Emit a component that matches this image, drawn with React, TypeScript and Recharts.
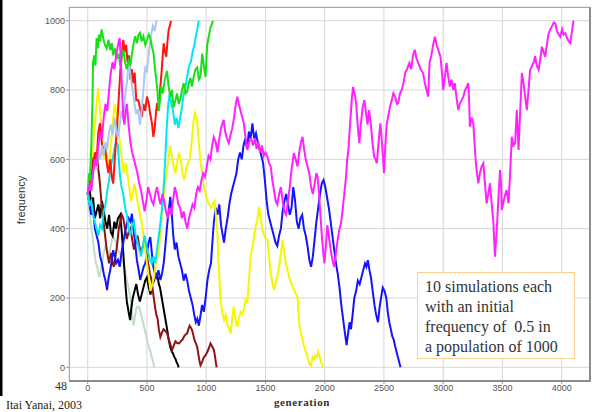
import { LineChart, Line, XAxis, YAxis, CartesianGrid } from "recharts";

// generation, frequency pairs
const paleGreen = [[0,500],[10,460],[20,440],[30,400],[40,380],[50,350],[60,320],[70,300],[80,290],[90,270],[100,260],[110,280],[120,300],[135,330],[150,350],[165,340],[180,320],[195,350],[210,380],[225,370],[240,360],[255,340],[270,330],[285,310],[300,300],[315,280],[330,250],[345,230],[360,200],[372,160],[387,120],[400,150],[410,170],[420,175],[430,175],[445,160],[460,140],[470,125],[480,110],[490,95],[500,78],[510,65],[520,55],[530,45],[540,30],[550,18],[562,0]];

const black = [[0,500],[15,520],[30,470],[45,490],[60,430],[75,450],[90,470],[105,430],[120,480],[135,450],[150,420],[165,400],[180,440],[195,390],[210,380],[225,420],[240,400],[255,430],[274,440],[287,390],[300,330],[310,280],[320,230],[330,190],[340,170],[350,150],[358,136],[368,170],[380,200],[395,220],[410,240],[425,210],[440,190],[455,210],[470,230],[485,250],[500,260],[515,230],[530,210],[545,240],[560,250],[575,270],[590,260],[600,240],[610,230],[620,210],[630,190],[640,170],[655,140],[670,110],[683,80],[697,58],[710,45],[720,40],[730,30],[740,25],[750,15],[760,8],[768,0]];

const darkRed = [[0,500],[15,540],[30,560],[45,600],[60,590],[70,620],[80,610],[90,570],[100,540],[110,500],[120,460],[130,430],[140,400],[150,370],[160,340],[170,320],[180,300],[190,320],[200,330],[210,300],[220,290],[235,320],[250,360],[262,400],[274,420],[287,440],[300,430],[315,400],[330,370],[345,390],[360,400],[375,370],[390,340],[405,360],[420,380],[435,350],[450,330],[465,350],[480,360],[495,330],[510,300],[525,270],[540,250],[550,220],[560,194],[570,170],[580,150],[590,140],[600,110],[613,87],[627,100],[640,110],[655,105],[670,98],[685,80],[698,65],[712,50],[725,62],[740,75],[755,70],[770,69],[785,75],[800,80],[815,90],[827,95],[839,98],[850,110],[860,120],[870,115],[881,107],[890,95],[900,80],[912,70],[924,58],[935,35],[945,15],[952,6],[965,15],[980,29],[995,35],[1010,45],[1022,55],[1036,69],[1050,60],[1065,50],[1075,30],[1082,12],[1088,0]];

const blue = [[0,500],[15,470],[30,440],[45,460],[60,400],[75,380],[90,360],[105,320],[120,300],[135,270],[150,250],[163,223],[177,260],[190,280],[203,310],[215,338],[228,320],[240,300],[255,310],[270,290],[285,330],[300,360],[315,390],[330,415],[345,430],[360,420],[373,443],[385,400],[400,360],[415,309],[430,280],[443,252],[457,270],[472,290],[486,300],[500,330],[514,360],[528,376],[541,330],[554,290],[567,270],[580,260],[597,280],[613,252],[627,270],[641,300],[655,350],[669,406],[683,450],[697,492],[710,440],[722,380],[735,340],[750,360],[765,320],[780,300],[795,280],[810,250],[825,270],[840,250],[855,220],[870,200],[885,180],[900,150],[912,130],[925,140],[938,120],[952,150],[965,180],[980,160],[995,200],[1010,250],[1025,280],[1040,300],[1052,360],[1065,420],[1080,460],[1095,440],[1110,470],[1125,410],[1140,380],[1150,360],[1165,400],[1180,430],[1195,470],[1210,500],[1225,520],[1240,540],[1255,560],[1270,600],[1285,620],[1300,600],[1315,640],[1330,660],[1345,630],[1360,680],[1375,660],[1390,704],[1405,660],[1420,675],[1435,650],[1450,630],[1465,610],[1480,590],[1495,540],[1510,480],[1525,440],[1540,420],[1555,400],[1570,380],[1585,360],[1600,350],[1615,380],[1630,400],[1645,450],[1660,480],[1675,500],[1690,470],[1705,440],[1720,460],[1735,520],[1750,480],[1765,420],[1780,400],[1795,430],[1810,440],[1825,400],[1840,380],[1855,350],[1870,310],[1885,290],[1900,320],[1915,370],[1930,420],[1945,460],[1960,500],[1975,530],[1990,540],[2005,520],[2020,490],[2035,460],[2050,420],[2065,380],[2080,340],[2095,300],[2110,270],[2125,230],[2140,180],[2155,140],[2170,100],[2185,64],[2198,100],[2210,130],[2222,110],[2235,150],[2250,200],[2265,220],[2280,250],[2295,240],[2310,260],[2325,280],[2340,300],[2352,290],[2364,309],[2378,280],[2390,260],[2405,220],[2420,180],[2435,150],[2450,130],[2462,170],[2475,200],[2490,230],[2505,220],[2520,200],[2532,160],[2545,130],[2558,110],[2570,90],[2582,80],[2595,60],[2610,40],[2625,20],[2640,0]];

const yellow = [[0,500],[15,550],[30,600],[45,640],[60,700],[75,760],[88,806],[100,760],[112,700],[125,620],[140,600],[155,640],[170,580],[185,600],[200,660],[215,720],[230,760],[245,720],[260,680],[275,640],[290,600],[305,560],[320,590],[335,560],[350,520],[365,480],[380,500],[395,530],[410,500],[425,470],[440,440],[455,420],[470,380],[485,340],[500,300],[515,260],[530,220],[545,240],[560,260],[575,300],[590,320],[605,360],[620,420],[635,470],[650,520],[665,560],[680,600],[695,640],[710,610],[725,580],[740,560],[755,590],[770,620],[785,600],[800,560],[815,540],[830,570],[845,590],[860,600],[875,640],[890,700],[905,733],[920,720],[935,660],[950,600],[965,560],[980,520],[995,500],[1010,480],[1025,470],[1040,460],[1055,470],[1070,480],[1082,440],[1093,396],[1105,300],[1115,230],[1121,194],[1135,160],[1150,136],[1165,150],[1180,120],[1195,110],[1206,98],[1220,140],[1232,175],[1247,140],[1262,117],[1275,140],[1290,160],[1305,155],[1320,170],[1335,200],[1347,185],[1360,250],[1375,319],[1390,347],[1405,380],[1420,410],[1432,425],[1446,463],[1460,430],[1474,396],[1490,380],[1505,370],[1517,367],[1530,320],[1545,271],[1560,240],[1573,223],[1590,250],[1605,270],[1615,290],[1630,330],[1644,367],[1658,330],[1672,300],[1686,280],[1700,261],[1715,245],[1729,232],[1745,220],[1758,210],[1771,203],[1778,160],[1785,126],[1792,110],[1799,98],[1813,80],[1827,59],[1840,45],[1855,30],[1870,11],[1884,5],[1898,30],[1910,25],[1922,35],[1935,30],[1946,45],[1955,35],[1965,20],[1975,10],[1985,0]];

const cyan = [[0,500],[15,470],[30,480],[45,440],[60,420],[75,400],[90,380],[105,410],[120,400],[135,450],[150,470],[165,510],[180,540],[195,580],[210,600],[225,630],[240,650],[255,640],[270,560],[285,520],[300,500],[315,460],[330,440],[345,400],[360,380],[375,410],[390,420],[405,380],[420,360],[435,340],[450,320],[465,350],[480,380],[495,350],[510,330],[525,310],[540,300],[555,320],[570,300],[585,340],[600,380],[615,420],[630,470],[645,540],[657,620],[668,700],[680,760],[692,790],[705,760],[720,740],[735,700],[750,720],[765,690],[780,720],[795,750],[810,790],[825,810],[840,840],[855,870],[870,880],[885,910],[900,930],[912,955],[925,975],[937,1000]];

const red = [[0,500],[15,540],[30,520],[45,580],[60,620],[75,600],[90,680],[104,704],[115,660],[130,620],[145,640],[160,590],[175,560],[190,600],[203,549],[215,530],[228,600],[240,660],[252,720],[264,790],[276,860],[288,900],[300,945],[312,910],[324,930],[336,880],[348,900],[360,830],[372,860],[384,820],[396,850],[410,770],[427,771],[440,750],[457,723],[470,760],[485,740],[500,781],[515,760],[528,730],[542,704],[554,665],[565,690],[575,730],[585,762],[597,740],[613,810],[623,850],[633,900],[641,935],[652,910],[663,896],[673,940],[683,973],[693,985],[703,1000]];

const lightBlue = [[0,500],[15,530],[30,510],[45,560],[60,590],[75,570],[90,620],[105,600],[120,640],[135,610],[150,650],[165,630],[180,680],[195,700],[210,670],[225,720],[240,690],[255,660],[270,700],[285,740],[300,720],[315,780],[330,820],[345,880],[355,860],[365,830],[380,800],[395,760],[410,730],[425,745],[440,700],[455,740],[470,800],[480,850],[490,870],[500,850],[510,890],[520,920],[535,960],[550,985],[565,970],[580,1000]];

const green = [[0,500],[10,560],[20,540],[30,640],[40,760],[45,880],[55,900],[65,870],[75,950],[85,920],[95,960],[105,940],[118,975],[130,950],[145,930],[160,920],[175,945],[190,915],[203,935],[215,900],[230,920],[245,890],[260,905],[274,870],[288,895],[302,915],[315,880],[330,860],[345,885],[360,870],[373,905],[385,930],[400,955],[415,935],[430,960],[443,965],[455,940],[470,955],[486,930],[500,945],[515,960],[528,950],[542,925],[556,905],[568,860],[579,830],[590,790],[600,740],[610,770],[620,810],[635,790],[650,830],[669,855],[683,810],[697,780],[711,800],[725,750],[740,770],[754,790],[768,760],[782,775],[796,800],[810,820],[825,790],[839,795],[853,820],[867,835],[880,810],[895,840],[910,860],[924,865],[938,830],[952,840],[966,905],[980,870],[994,838],[1008,930],[1022,955],[1036,980],[1048,990],[1056,1000]];

const magenta = [[0,500],[15,530],[30,510],[45,560],[60,600],[75,580],[90,640],[105,680],[120,660],[135,720],[150,760],[165,740],[180,800],[195,850],[210,880],[225,860],[240,900],[255,930],[270,950],[280,880],[290,800],[300,720],[310,700],[320,740],[330,760],[345,700],[360,650],[375,620],[390,600],[405,580],[420,560],[435,530],[450,510],[465,480],[480,450],[495,480],[510,520],[525,500],[540,480],[555,470],[570,500],[585,520],[600,490],[615,470],[630,500],[645,480],[660,450],[675,430],[690,460],[705,440],[720,480],[735,520],[750,500],[765,470],[780,460],[795,430],[810,450],[825,420],[840,400],[855,430],[870,450],[885,470],[900,460],[915,500],[930,520],[945,510],[960,540],[975,560],[990,550],[1005,580],[1020,610],[1035,600],[1050,640],[1064,664],[1080,650],[1095,620],[1110,660],[1125,690],[1147,714],[1160,680],[1175,660],[1190,647],[1205,670],[1220,690],[1235,720],[1250,760],[1262,781],[1275,760],[1290,740],[1305,720],[1318,704],[1333,660],[1347,627],[1362,650],[1380,660],[1395,640],[1410,660],[1425,630],[1440,650],[1455,620],[1470,640],[1485,610],[1500,620],[1517,607],[1530,590],[1545,578],[1558,540],[1572,511],[1586,480],[1600,470],[1615,500],[1630,520],[1645,480],[1660,450],[1675,440],[1690,480],[1705,520],[1720,570],[1740,618],[1755,600],[1770,580],[1785,620],[1800,650],[1813,665],[1826,630],[1840,600],[1855,580],[1870,560],[1885,520],[1900,500],[1915,530],[1930,560],[1940,550],[1952,500],[1964,440],[1976,380],[1988,330],[1998,300],[2010,350],[2022,410],[2035,380],[2050,340],[2065,310],[2080,290],[2095,330],[2110,370],[2125,400],[2138,416],[2150,450],[2165,500],[2180,549],[2190,600],[2200,627],[2210,680],[2220,730],[2230,780],[2240,809],[2252,790],[2265,762],[2278,700],[2292,647],[2305,700],[2320,750],[2335,771],[2350,730],[2362,700],[2375,742],[2390,700],[2405,640],[2418,607],[2430,600],[2440,589],[2455,650],[2470,704],[2485,640],[2500,561],[2512,640],[2523,700],[2535,722],[2550,750],[2565,770],[2580,791],[2595,780],[2610,760],[2620,762],[2635,790],[2650,800],[2665,820],[2680,850],[2695,860],[2715,878],[2730,860],[2745,900],[2760,916],[2775,890],[2790,878],[2810,860],[2830,849],[2845,820],[2860,800],[2873,781],[2885,878],[2900,900],[2915,930],[2930,954],[2945,930],[2958,916],[2977,896],[2990,850],[3000,800],[3015,840],[3028,878],[3042,840],[3056,810],[3070,830],[3085,800],[3098,820],[3112,780],[3127,742],[3140,760],[3155,770],[3170,781],[3185,800],[3200,810],[3212,820],[3220,760],[3225,694],[3240,720],[3254,704],[3264,650],[3274,598],[3285,560],[3297,531],[3310,560],[3325,580],[3339,589],[3350,540],[3360,500],[3367,473],[3380,500],[3395,531],[3410,470],[3424,416],[3430,370],[3437,319],[3445,360],[3452,396],[3465,480],[3480,569],[3490,520],[3494,454],[3510,480],[3525,500],[3536,511],[3551,473],[3565,560],[3579,665],[3593,640],[3607,647],[3621,742],[3636,627],[3650,740],[3664,849],[3678,820],[3692,781],[3706,742],[3720,800],[3734,858],[3750,870],[3765,880],[3776,898],[3790,870],[3805,858],[3820,890],[3833,925],[3847,910],[3861,896],[3875,930],[3890,964],[3905,975],[3920,985],[3933,995],[3946,992],[3960,970],[3975,960],[3988,954],[4003,975],[4016,960],[4030,964],[4045,950],[4060,940],[4073,935],[4085,965],[4100,1000]];

const xTicks = [0, 500, 1000, 1500, 2000, 2500, 3000, 3500, 4000];
const yTicks = [0, 200, 400, 600, 800, 1000];

const runs: { name: string; color: string; pts: number[][] }[] = [
  { name: "paleGreen", color: "#c4dcc4", pts: paleGreen },
  { name: "black", color: "#000000", pts: black },
  { name: "darkRed", color: "#8e1414", pts: darkRed },
  { name: "blue", color: "#1414ff", pts: blue },
  { name: "yellow", color: "#f6f600", pts: yellow },
  { name: "cyan", color: "#00e6f2", pts: cyan },
  { name: "red", color: "#ff1414", pts: red },
  { name: "lightBlue", color: "#a9c9f2", pts: lightBlue },
  { name: "green", color: "#18e018", pts: green },
  { name: "magenta", color: "#ff22ff", pts: magenta },
];

const tickStyle = { fill: "#555", fontSize: 9, fontFamily: "Liberation Sans, Arial, sans-serif" };
const serif = "Liberation Serif, Times New Roman, serif";

export default function App() {
  return (
    <div style={{ position: "absolute", left: 0, top: 0, width: 607, height: 412, background: "#fff" }}>
      <LineChart width={607} height={412} margin={{ top: 7, right: 17, bottom: 11, left: 29 }}>
        <CartesianGrid stroke="#d6d6d6" strokeWidth={1} />
        <XAxis
          type="number"
          dataKey="g"
          domain={[-158, 4239]}
          ticks={xTicks}
          allowDataOverflow
          height={20}
          axisLine={false}
          tickLine={{ stroke: "#999" }}
          tickSize={3}
          tickMargin={1}
          tick={tickStyle}
          interval={0}
        />
        <YAxis
          type="number"
          domain={[-39.5, 1039.5]}
          ticks={yTicks}
          allowDataOverflow
          width={40}
          axisLine={false}
          tickLine={{ stroke: "#999" }}
          tickSize={3}
          tickMargin={1}
          tick={tickStyle}
          interval={0}
        />
        {runs.map(r => (
          <Line
            key={r.name}
            data={r.pts.map(([g, f]) => ({ g, f }))}
            dataKey="f"
            type="linear"
            stroke={r.color}
            strokeWidth={2}
            dot={false}
            isAnimationActive={false}
          />
        ))}
      </LineChart>

      {/* plot frame */}
      <div
        style={{
          position: "absolute",
          left: 69,
          top: 7,
          width: 519,
          height: 372,
          borderLeft: "1px solid #a8a8a8",
          borderTop: "1px solid #a8a8a8",
          borderRight: "2px solid #8c8c8c",
          borderBottom: "2px solid #8c8c8c",
          pointerEvents: "none",
        }}
      />

      {/* note box */}
      <div
        style={{
          position: "absolute",
          left: 417,
          top: 272,
          width: 156,
          height: 85,
          border: "1.5px solid #fbd093",
          background: "#fff",
        }}
      />

      <svg width={607} height={412} style={{ position: "absolute", left: 0, top: 0, pointerEvents: "none" }}>
        <rect x={0} y={0} width={2.5} height={396} fill="#000" />
        <text x={22} y={200} transform="rotate(-90 22 200)" textAnchor="middle" dominantBaseline="middle"
          fontSize={11} fill="#333" fontFamily="Liberation Sans, Arial, sans-serif">frequency</text>
        <text x={302} y={406} textAnchor="middle" fontSize={11} fontWeight="bold" letterSpacing={0.6}
          fill="#333" fontFamily={serif}>generation</text>
        <text x={55} y={390} fontSize={12} fill="#333" fontFamily={serif}>48</text>
        <text x={6} y={409} fontSize={12} fill="#222" fontFamily={serif}>Itai Yanai, 2003</text>
        <g fontSize={16} fill="#333" fontFamily={serif}>
          <text x={425} y={291.5}>10 simulations each</text>
          <text x={425} y={311.5}>with an initial</text>
          <text x={425} y={331.5}>{"frequency of\u00a0 0.5 in"}</text>
          <text x={425} y={351.5}>a population of 1000</text>
        </g>
      </svg>
    </div>
  );
}
